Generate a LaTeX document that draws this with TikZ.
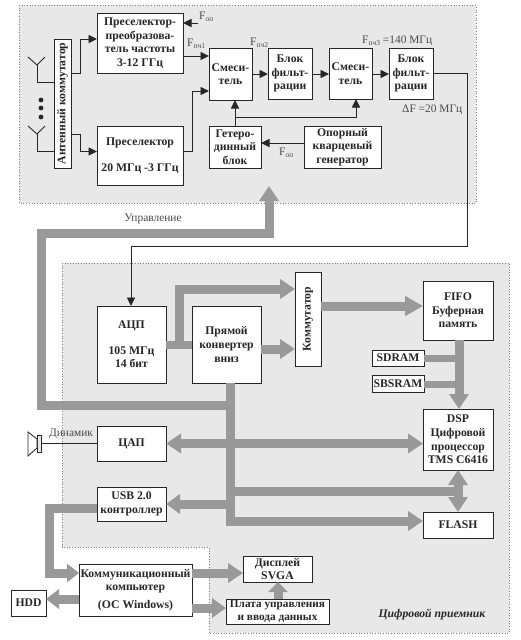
\documentclass[tikz,border=0pt]{standalone}
\usepackage{fontspec}
\setmainfont{Liberation Serif}
\usetikzlibrary{arrows.meta}
\definecolor{panel}{HTML}{E8E8E8}
\definecolor{fatc}{HTML}{999999}
\definecolor{ink}{HTML}{262626}
\definecolor{lbl}{HTML}{4A4A4A}
\newcommand{\lowtxt}[1]{\raisebox{-2pt}{\fontsize{7.5}{8}\selectfont #1}}
\newcommand{\bx}[6]{\node[blk,minimum width={(#4-#2)*1pt},minimum height={(#5-#3)*1pt}] (#1) at ({(#2+#4)/2},{(#3+#5)/2}) {#6};}
\newcommand{\rbx}[6]{\node[blk,rotate=90,minimum width={(#5-#3)*1pt},minimum height={(#4-#2)*1pt}] (#1) at ({(#2+#4)/2},{(#3+#5)/2}) {#6};}
\tikzset{
  blk/.style={draw=ink,fill=white,line width=1pt,inner sep=0pt,outer sep=0pt,align=center,text=ink,font=\bfseries\fontsize{11.7}{13.6}\selectfont},
  pan/.style={fill=panel,draw=gray,dotted,line width=.7pt},
  wire/.style={draw=ink,line width=.9pt},
  warr/.style={wire,-{Triangle[length=8.5pt,width=8pt]}},
  fat/.style={draw=fatc,line width=9pt},
  thin fat/.style={draw=fatc,line width=7pt},
  fh/.tip={Triangle[length=15pt,width=19pt]},
  lab/.style={text=lbl,inner sep=0pt,font=\fontsize{11.4}{13}\selectfont},
}
\begin{document}
\begin{tikzpicture}[x=1pt,y=-1pt]
\useasboundingbox (0,0) rectangle (520,640);
\fill[white] (0,0) rectangle (520,640);
% panels
\draw[pan] (19,5) rectangle (476,203);
\draw[pan] (62,263) -- (509,263) -- (509,633) -- (209,633) -- (209,547) -- (62,547) -- cycle;
% boxes
\bx{pc}{97}{13}{183}{73}{Преселектор-\\преобразова-\\тель частоты\\3-12 ГГц}
\rbx{ak}{54}{39}{71}{168}{Антенный коммутатор}
\bx{ps}{97}{126}{183}{185}{Преселектор\\[12pt]20 МГц -3 ГГц}
\bx{mxa}{209}{48}{252}{100}{Смеси-\\тель}
\bx{het}{209}{126}{261}{168}{Гетеро-\\динный\\блок}
\bx{fa}{268}{48}{312}{99}{Блок\\фильт-\\рации}
\bx{mxb}{329}{48}{372}{99}{Смеси-\\тель}
\bx{fb}{389}{48}{433}{99}{Блок\\фильт-\\рации}
\bx{op}{304}{126}{381}{168}{Опорный\\кварцевый\\генератор}
\bx{adc}{97}{306}{166}{383}{АЦП\\[12pt]105 МГц\\14 бит}
\bx{ddc}{192}{306}{261}{383}{Прямой\\конвертер\\вниз}
\rbx{sw}{295}{272}{321}{366}{Коммутатор}
\bx{fifo}{423}{281}{493}{340}{FIFO\\Буферная\\память}
\bx{sdr}{372}{350}{424}{366}{SDRAM}
\bx{sbs}{372}{375}{424}{392}{SBSRAM}
\bx{dsp}{423}{409}{493}{470}{DSP\\Цифровой\\процессор\\TMS C6416}
\bx{dac}{97}{426}{166}{461}{ЦАП}
\bx{usb}{97}{487}{166}{521}{USB 2.0\\контроллер}
\bx{fl}{423}{512}{493}{538}{FLASH}
\bx{cc}{79}{564}{192}{616}{Коммуникационный\\компьютер\\[4pt](ОС Windows)}
\bx{hdd}{11}{590}{46}{616}{HDD}
\bx{disp}{243}{556}{312}{582}{Дисплей\\SVGA}
\node[blk,font=\bfseries\fontsize{11.3}{13}\selectfont,minimum width=103pt,minimum height=25pt] (pl) at (277.5,611.5) {Плата управления\\и ввода данных};
% antennas
\coordinate (anta) at (37,65);
\coordinate (antb) at (37,134);
\draw[wire] (28,57) -- (anta) -- (45,57);
\draw[wire] (28,126) -- (antb) -- (45,126);
\draw[wire] (anta) |- (ak.north |- 0,82);
\draw[wire] (antb) |- (ak.north |- 0,151);
\foreach \y in {100,108,117} \fill[ink] (41,\y) circle (2.4);
% thin connectors
\draw[warr] (ak.south |- 0,73) -- (80,73) -- (80,39) -- (pc.west |- 0,39);
\draw[warr] (ak.south |- 0,134) -- (80,134) -- (80,151.5) -- (ps.west |- 0,151.5);
\draw[warr] (ps.east |- 0,151.5) -- (192,151.5) -- (192,91) -- (mxa.west |- 0,91);
\draw[warr] (pc.east |- 0,56) -- (mxa.west |- 0,56);
\coordinate (fdp) at (198,23);
\draw[warr] (fdp) -- (pc.east |- fdp);
\draw[warr] (mxa.east |- 0,74) -- (fa.west |- 0,74);
\draw[warr] (fa.east |- 0,74) -- (mxb.west |- 0,74);
\draw[warr] (mxb.east |- 0,74) -- (fb.west |- 0,74);
\draw[warr] (het.north -| 235,0) -- (mxa.south -| 235,0);
\draw[warr] (235,117) -- (356,117) -- (mxb.south -| 356,0);
\draw[warr] (op.west |- 0,143) -- (het.east |- 0,143);
\draw[warr] (fb.east |- 0,73) -- (467,73) -- (467,246) -- (131,246) -- (adc.north -| 131,0);
% thick connectors
\draw[fat,-fh] (ddc.south -| 230.5,0) -- (230.5,521) -- (fl.west |- 0,521);
\draw[fat,-fh] (230.5,405) -- (41,405) -- (41,233) -- (269,233) -- (269,186);
\draw[fat] (230.5,491) -- (458,491);
\draw[fat,line width=8pt] (adc.east |- 0,345) -- (ddc.west |- 0,345);
\draw[fat,-fh] (179,345) -- (179,289) -- (sw.north |- 0,289);
\draw[fat,-fh] (ddc.east |- 0,349) -- (sw.north |- 0,349);
\draw[fat,-{Triangle[length=18pt,width=19pt]}] (sw.south |- 0,306) -- (fifo.west |- 0,306);
\draw[thin fat] (sdr.east |- 0,358) -- (459,358);
\draw[thin fat] (sbs.east |- 0,384) -- (459,384);
\draw[fat,-fh] (fifo.south -| 459,0) -- (dsp.north -| 459,0);
\draw[fat,fh-fh] (dac.east |- 0,443.5) -- (dsp.west |- 0,443.5);
\draw[fat,-{Triangle[length=14pt,width=19pt]}] (230.5,504) -- (usb.east |- 0,504);
\draw[fat,fh-fh] (dsp.south -| 458,0) -- (fl.north -| 458,0);
\draw[fat,-{Triangle[length=12pt,width=18pt]}] (usb.west |- 0,508) -- (49.5,508) -- (49.5,573) -- (cc.west |- 0,573);
\draw[fat,-{Triangle[length=13pt,width=19pt]}] (cc.west |- 0,599) -- (hdd.east |- 0,599);
\draw[fat,-fh] (cc.east |- 0,573) -- (disp.west |- 0,573);
\draw[fat,-{Triangle[length=14pt,width=19pt]}] (cc.east |- 0,608) -- (pl.west |- 0,608);
\draw[fat,-{Triangle[length=10pt,width=19pt]}] (pl.north -| 278,0) -- (disp.south -| 278,0);
% speaker
\node[draw=ink,fill=panel,line width=.8pt,minimum width=4pt,minimum height=17pt,inner sep=0pt,outer sep=0pt] (spk) at (39,443.5) {};
\draw[draw=ink,fill=white,line width=.8pt] (spk.north west) ++(0,4) -- (28,432) -- (28,456) -- ([yshift=4pt]spk.south west) -- cycle;
\draw[wire] (spk.east) -- (dac.west);
% labels
\node[lab] (ldn) at (71,434) {Динамик};
\node[lab] (lup) at (153,219) {Управление};
\node[lab,anchor=west] (lfa) at (199,17) {F\lowtxt{оп}};
\node[lab,anchor=west] (lfb) at (187,44) {F\lowtxt{пч1}};
\node[lab,anchor=west] (lfc) at (250,43) {F\lowtxt{пч2}};
\node[lab,anchor=west] (lfd) at (362,41) {F\lowtxt{пч3} =140 МГц};
\node[lab,anchor=west] (lfe) at (402,110) {ΔF =20 МГц};
\node[lab,anchor=west] (lff) at (279,153) {F\lowtxt{оп}};
\node[text=ink,inner sep=0pt,font=\bfseries\itshape\fontsize{11.7}{13}\selectfont] (ldr) at (432,615) {Цифровой приемник};
\end{tikzpicture}
\end{document}
